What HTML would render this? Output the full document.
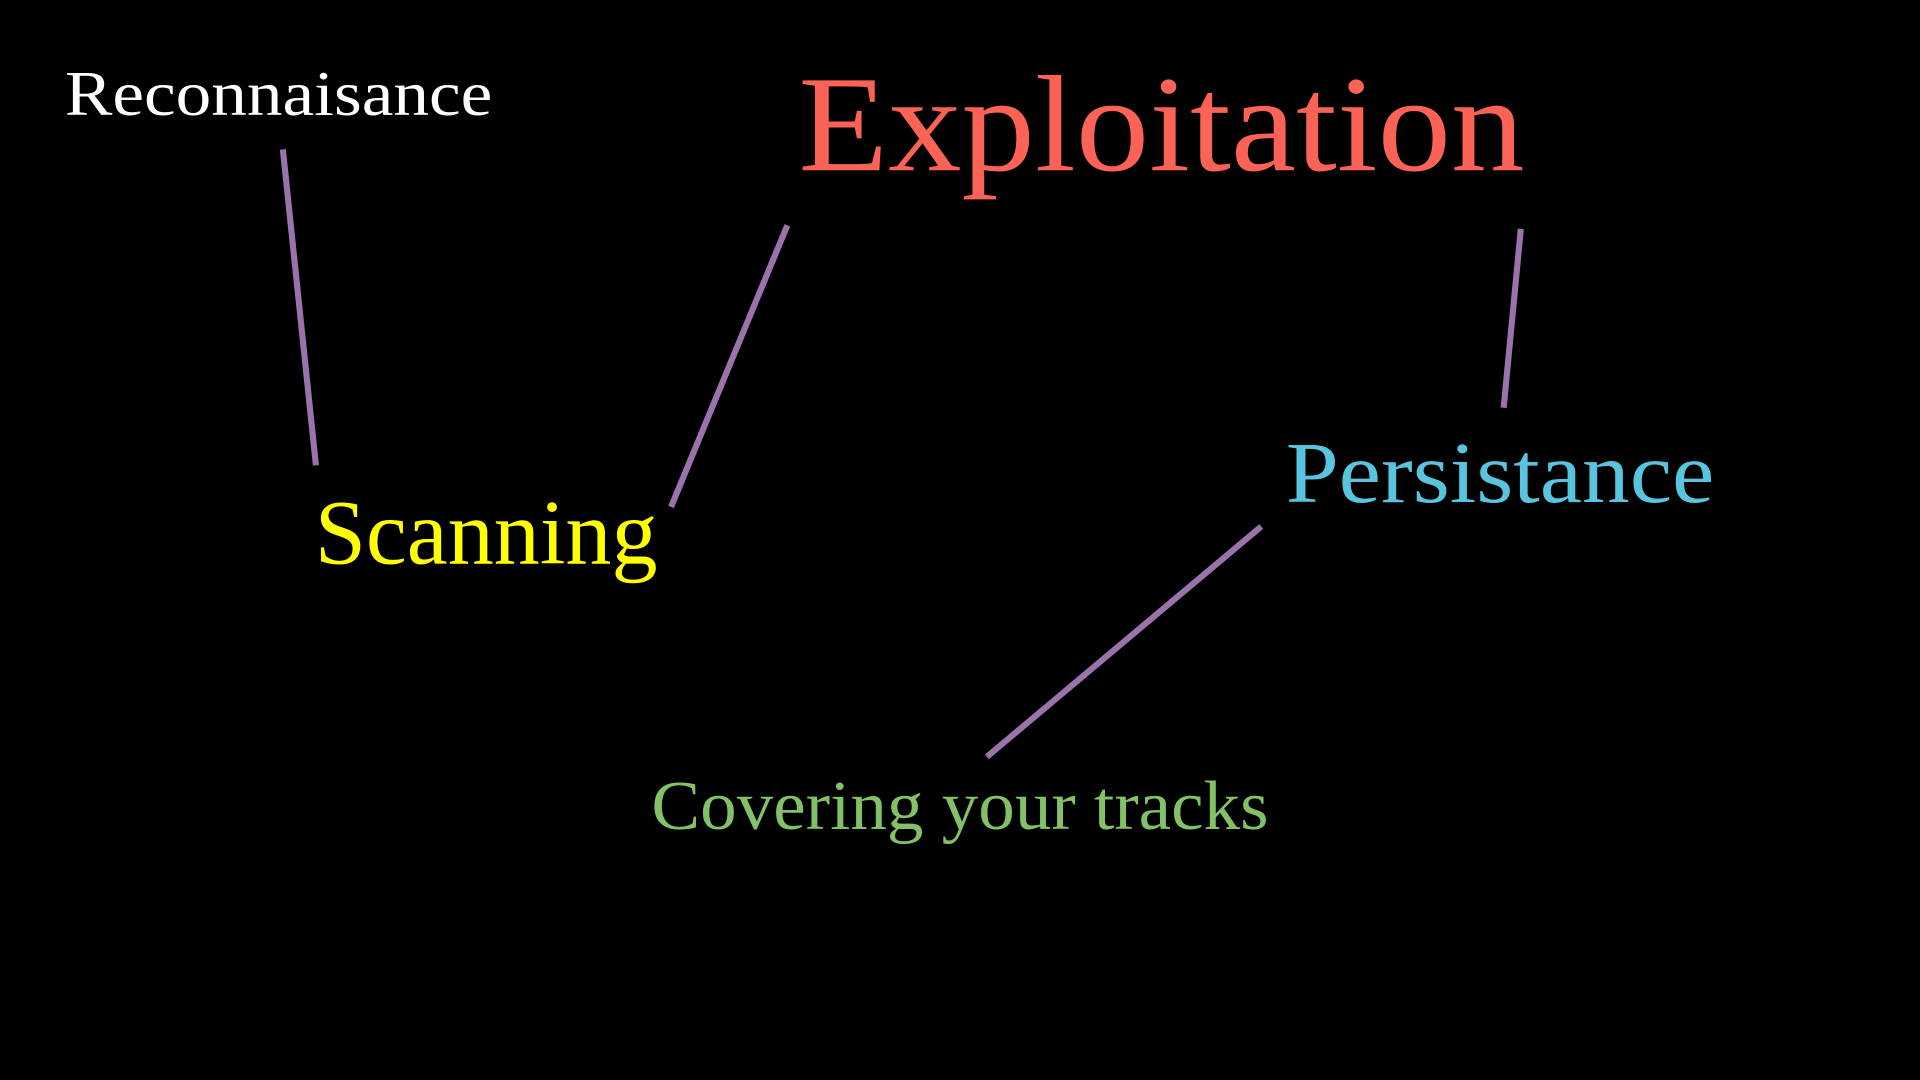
<!DOCTYPE html>
<html><head><meta charset="utf-8"><style>
html,body{margin:0;padding:0;background:#000;width:1920px;height:1080px;overflow:hidden}
svg{display:block}
text{font-family:"Liberation Serif",serif}
</style></head><body>
<svg width="1920" height="1080" viewBox="0 0 1568 882" xmlns="http://www.w3.org/2000/svg">
<rect width="1568" height="882" fill="#000"/>
<g stroke="#9a72ac" stroke-width="5" stroke-linecap="butt">
<line x1="231" y1="122" x2="258" y2="380"/>
<line x1="643" y1="184" x2="548" y2="414"/>
<line x1="1242" y1="187" x2="1228" y2="333"/>
<line x1="1030" y1="430" x2="806" y2="618"/>
</g>
<text x="53" y="94" font-size="52" fill="#ffffff" textLength="349" lengthAdjust="spacingAndGlyphs">Reconnaisance</text>
<text x="652" y="139" font-size="112" fill="#fc6255" textLength="593" lengthAdjust="spacingAndGlyphs">Exploitation</text>
<text x="257" y="460" font-size="75" fill="#ffff00" textLength="280" lengthAdjust="spacingAndGlyphs">Scanning</text>
<text x="1050" y="410" font-size="71" fill="#58c4dd" textLength="350" lengthAdjust="spacingAndGlyphs">Persistance</text>
<text x="532" y="677" font-size="57" fill="#83c167" textLength="504" lengthAdjust="spacingAndGlyphs">Covering your tracks</text>
</svg>
</body></html>
